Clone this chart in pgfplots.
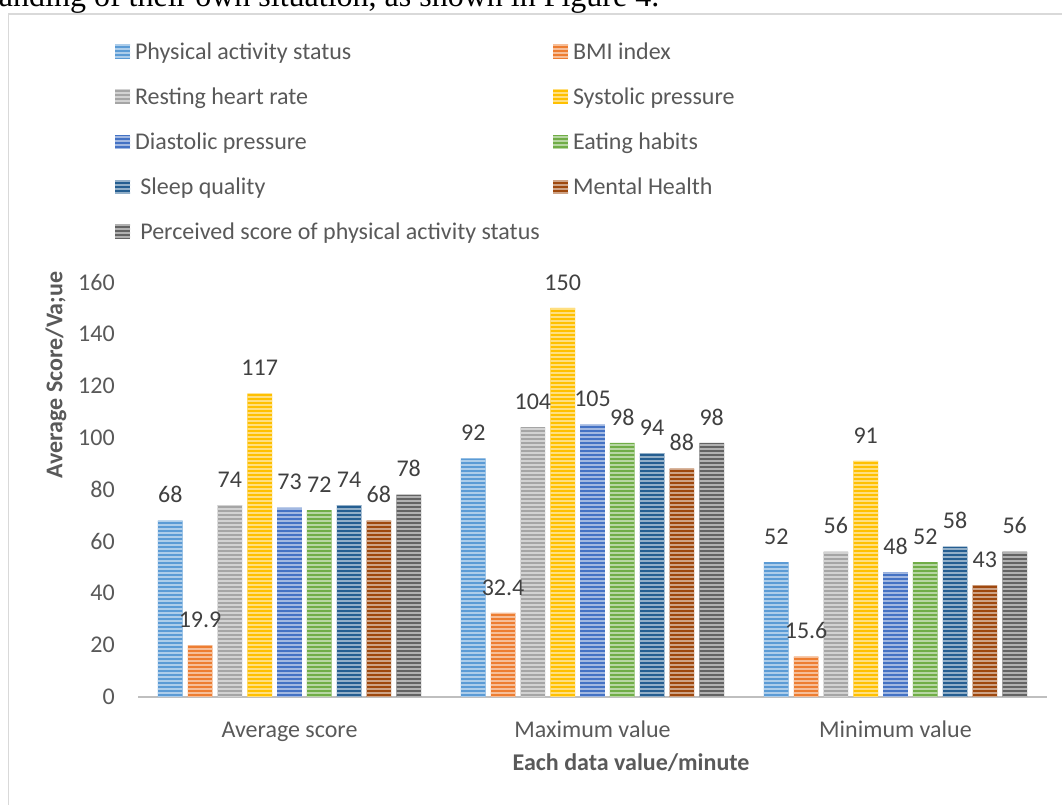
\documentclass[border=0pt]{standalone}
\usepackage{fontspec}
\setmainfont{Carlito}
\newfontfamily\timesfont{Liberation Serif}
\usepackage{pgfplots}
\pgfplotsset{compat=1.18}
\usetikzlibrary{patterns.meta}
\definecolor{cA}{HTML}{5B9BD5}
\definecolor{cB}{HTML}{ED7D31}
\definecolor{cC}{HTML}{A5A5A5}
\definecolor{cD}{HTML}{FFC000}
\definecolor{cE}{HTML}{4472C4}
\definecolor{cF}{HTML}{70AD47}
\definecolor{cG}{HTML}{255E91}
\definecolor{cH}{HTML}{9E480E}
\definecolor{cI}{HTML}{636363}
\definecolor{txt}{HTML}{595959}
\definecolor{lbl}{HTML}{404040}
\definecolor{axgray}{HTML}{BFBFBF}
\definecolor{framegray}{HTML}{D9D9D9}
\pgfplotsset{stripe/.style={fill=#1, draw=none,
  postaction={pattern={Lines[angle=0,distance=3pt,line width=1pt]}, pattern color=#1!50!white}}}
\newcommand{\fs}{\fontsize{18}{22}\selectfont}
\begin{document}
\begin{tikzpicture}
\useasboundingbox (0,0) rectangle (796.5pt,603.75pt);
\clip (0,0) rectangle (796.5pt,603.75pt);
\draw[framegray, line width=1pt] (6.25pt,-10pt) rectangle (820pt,593.25pt);
\node[anchor=base west, inner sep=0pt, font=\timesfont\fontsize{24}{28}\selectfont] at (-1pt,599pt) {anding of their own situation, as shown in Figure 4.};
\begin{axis}[
  at={(103.5pt,81pt)}, anchor=south west,
  scale only axis, width=681.75pt, height=311.25pt,
  xmin=-0.5, xmax=2.5, ymin=0, ymax=160,
  ybar=3.85pt, bar width=18.5pt,
  xtick={0,1,2}, xticklabels={Average score, Maximum value, Minimum value},
  ytick={0,20,...,160},
  axis x line*=bottom, axis y line*=left,
  x axis line style={line width=2pt, draw=axgray, -},
  y axis line style={draw=none},
  major tick length=0pt,
  tick style={draw=none},
  /pgf/number format/assume math mode=true,
  tick label style={font=\fs, text=txt, inner sep=0pt},
  yticklabel style={anchor=east, xshift=-17.25pt},
  xticklabel style={anchor=base, yshift=-30.4pt},
  xlabel={\bfseries Each data value/minute},
  xlabel style={at={(axis description cs:0.5424,-0.159)}, anchor=center, font=\fs, text=txt},
  ylabel={\bfseries Average Score/Va;ue},
  ylabel style={at={(axis description cs:-0.0902,0.776)}, anchor=center, font=\fs, text=txt},
  nodes near coords,
  nodes near coords style={font=\fs, text=lbl, anchor=south, inner sep=0pt, yshift=13pt},
  legend columns=2,
  legend style={at={(axis description cs:-0.0253,1.5798)}, anchor=north west, draw=none, fill=none,
    inner sep=0pt, outer sep=0pt, column sep=3.75pt, row sep=15.75pt, font=\fs, text=txt,
    nodes={inner sep=0pt, outer sep=0pt, text height=13.5pt, text depth=4.5pt, anchor=base west}},
  legend image code/.code={\fill[#1] (0pt,0.5pt) rectangle (11.25pt,11pt);},
]
\addplot[stripe=cA] coordinates {(0,68) (1,92) (2,52)};
\addlegendentry{\makebox[309.75pt][l]{Physical activity status}}
\addplot[stripe=cB] coordinates {(0,19.9) (1,32.4) (2,15.6)};
\addlegendentry{BMI index}
\addplot[stripe=cC] coordinates {(0,74) (1,104) (2,56)};
\addlegendentry{\makebox[309.75pt][l]{Resting heart rate}}
\addplot[stripe=cD] coordinates {(0,117) (1,150) (2,91)};
\addlegendentry{Systolic pressure}
\addplot[stripe=cE] coordinates {(0,73) (1,105) (2,48)};
\addlegendentry{\makebox[309.75pt][l]{Diastolic pressure}}
\addplot[stripe=cF] coordinates {(0,72) (1,98) (2,52)};
\addlegendentry{Eating habits}
\addplot[stripe=cG] coordinates {(0,74) (1,94) (2,58)};
\addlegendentry{\makebox[309.75pt][l]{\hspace*{4pt}Sleep quality}}
\addplot[stripe=cH] coordinates {(0,68) (1,88) (2,43)};
\addlegendentry{Mental Health}
\addplot[stripe=cI] coordinates {(0,78) (1,98) (2,56)};
\addlegendentry{\makebox[309.75pt][l]{\hspace*{4pt}Perceived score of physical activity status}}
\end{axis}
\end{tikzpicture}
\end{document}
